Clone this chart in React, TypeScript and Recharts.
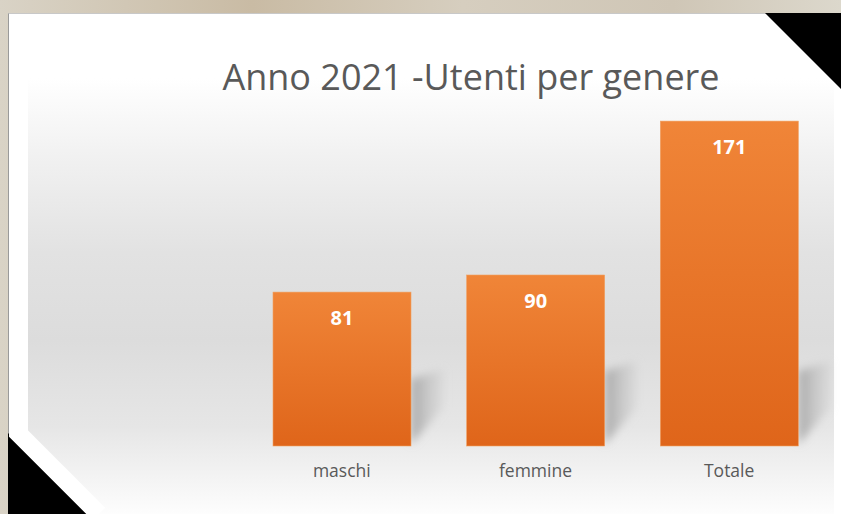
import React from 'react';
import { BarChart, Bar, XAxis, YAxis, LabelList } from 'recharts';

const categories = ['maschi', 'femmine', 'Totale'];
const utenti = [81, 90, 171];

const data = categories.map((name, i) => ({ name, utenti: utenti[i] }));

// bar with a soft perspective shadow on its right
const ShadowBar = (props: any) => {
  const { x, y, width, height } = props;
  const sx = x + width;
  const by = y + height;
  const reach = Math.min(85, height * 0.5);
  return (
    <g>
      <polygon
        points={`${sx},${by - 2} ${sx + 32},${by - 38} ${sx + 32},${by - reach} ${sx},${by - reach + 10}`}
        fill="url(#shadowGrad)"
        filter="url(#blurShadow)"
      />
      <rect x={x} y={y} width={width} height={height} fill="url(#barGrad)" stroke="#f0a060" strokeWidth={0.6} />
    </g>
  );
};

const App: React.FC = () => {
  return (
    <div style={{ position: 'absolute', left: 0, top: 0, width: 841, height: 514, overflow: 'hidden', background: 'linear-gradient(90deg, #d9d3c6 0%, #c9bba4 30%, #d6cebf 55%, #cfc6b6 80%, #dcd8cc 100%)' }}>
      <div style={{ position: 'absolute', left: 8, top: 13, width: 833, height: 501, background: '#ffffff', borderLeft: '1px solid #9a9a9a', borderTop: '1px solid #c8c8c8' }} />
      <div style={{ position: 'absolute', left: 28, top: 78, width: 806, height: 436, background: 'linear-gradient(180deg, #ffffff 0%, #f1f1f1 18%, #e2e2e2 40%, #dcdcdc 60%, #e6e6e6 80%, #fdfdfd 100%)' }} />
      <svg width={841} height={514} style={{ position: 'absolute', left: 0, top: 0 }}>
        <polygon points="765,13 841,13 841,89" fill="#000" />
        <polygon points="8,433 8,514 89,514" fill="#000" />
        <polyline points="18,300 18,433 99,514" fill="none" stroke="#ffffff" strokeWidth={18} />
      </svg>
      <div style={{ position: 'absolute', left: 0, top: 56, width: 942, textAlign: 'center', fontFamily: 'Open Sans', fontSize: 36, lineHeight: '42px', color: '#595959', whiteSpace: 'nowrap' }}>
        Anno 2021 -Utenti per genere
      </div>
      <div style={{ position: 'absolute', left: 0, top: 0 }}>
        <BarChart width={841} height={514} data={data} margin={{ top: 104, right: 15, bottom: 0, left: 245 }}>
          <defs>
            <linearGradient id="barGrad" x1="0" y1="0" x2="0" y2="1">
              <stop offset="0%" stopColor="#f08538" />
              <stop offset="100%" stopColor="#df651a" />
            </linearGradient>
            <linearGradient id="shadowGrad" x1="0" y1="0" x2="1" y2="0">
              <stop offset="0%" stopColor="#a8a8a8" />
              <stop offset="100%" stopColor="#c8c8c8" stopOpacity={0.3} />
            </linearGradient>
            <filter id="blurShadow" x="-30%" y="-30%" width="160%" height="160%">
              <feGaussianBlur stdDeviation="4" />
            </filter>
          </defs>
          <XAxis
            dataKey="name"
            axisLine={false}
            tickLine={false}
            height={68}
            tickMargin={13}
            tick={{ fill: '#595959', fontSize: 17.5, fontFamily: 'Open Sans' }}
          />
          <YAxis hide domain={[0, 180]} />
          <Bar dataKey="utenti" barSize={138} shape={<ShadowBar />} isAnimationActive={false}>
            <LabelList dataKey="utenti" position="insideTop" offset={19} fill="#ffffff" fontSize={20} fontWeight="bold" fontFamily="Open Sans" />
          </Bar>
        </BarChart>
      </div>
    </div>
  );
};

export default App;
